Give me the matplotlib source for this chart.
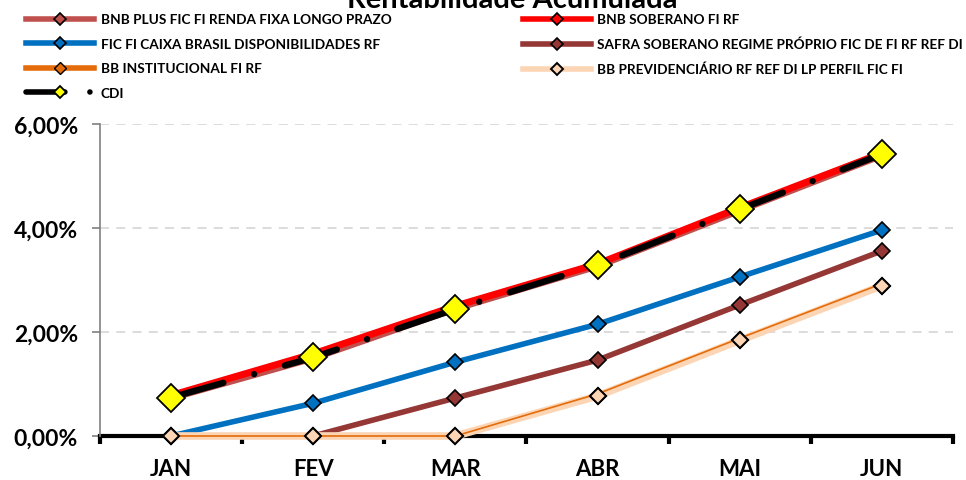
import matplotlib
matplotlib.use("Agg")
import matplotlib.pyplot as plt
from matplotlib.ticker import FuncFormatter, FixedLocator

plt.rcParams['font.family'] = ['Lato', 'DejaVu Sans']

months = ["JAN", "FEV", "MAR", "ABR", "MAI", "JUN"]
bnb_plus = [0.73, 1.50, 2.45, 3.27, 4.34, 5.40]
bnb_soberano = [0.78, 1.58, 2.50, 3.31, 4.39, 5.44]
caixa = [0.00, 0.63, 1.42, 2.15, 3.06, 3.96]
safra = [0.00, 0.00, 0.73, 1.46, 2.52, 3.56]
bb_inst = [0.00, 0.00, 0.00, 0.81, 1.88, 2.93]
bb_prev = [0.00, 0.00, 0.00, 0.77, 1.84, 2.89]
cdi = [0.74, 1.51, 2.44, 3.29, 4.36, 5.42]
y_ticks = [0, 2, 4, 6]

names = ["BNB PLUS FIC FI RENDA FIXA LONGO PRAZO", "BNB SOBERANO FI RF",
         "FIC FI CAIXA BRASIL DISPONIBILIDADES RF",
         "SAFRA SOBERANO REGIME PRÓPRIO FIC DE FI RF REF DI",
         "BB INSTITUCIONAL FI RF", "BB PREVIDENCIÁRIO RF REF DI LP PERFIL FIC FI", "CDI"]

W = "bold"
fig = plt.figure(figsize=(9.66, 4.81), dpi=100)
ax = fig.add_axes([0.1035, 0.0915, 0.883, 0.6485])
x = list(range(len(months)))

cdi_ls = (0, (8.5, 5.0, 0.01, 5.0))
h = {}
h[0], = ax.plot(x, bnb_plus, color="#C0504D", lw=5, marker="D", ms=8, mfc="#C0504D", mec="black", mew=1.2, zorder=3, clip_on=False)
h[1], = ax.plot(x, bnb_soberano, color="#FF0000", lw=5, marker="D", ms=8, mfc="#FF0000", mec="black", mew=1.2, zorder=4, clip_on=False)
h[2], = ax.plot(x, caixa, color="#0070C0", lw=4, marker="D", ms=8.5, mfc="#0070C0", mec="black", mew=1.2, zorder=4, clip_on=False)
h[3], = ax.plot(x, safra, color="#953735", lw=4, marker="D", ms=8.5, mfc="#953735", mec="black", mew=1.2, zorder=4, clip_on=False)
h[5], = ax.plot(x, bb_prev, color="#FCD5B5", lw=5.5, marker="D", ms=8.5, mfc="#FCD5B5", mec="black", mew=1.4, zorder=4.5, clip_on=False)
h[4], = ax.plot(x, bb_inst, color="#E46C0A", lw=1.2, marker="D", ms=0.1, mfc="#E46C0A", mec="black", mew=1, zorder=4.6, clip_on=False)
ax.plot(x, bb_prev, ls="none", marker="D", ms=8.5, mfc="#FCD5B5", mec="black", mew=1.4, zorder=4.7, clip_on=False)
h[6], = ax.plot(x, cdi, color="black", lw=4.6, ls=cdi_ls, dash_capstyle='round', marker="D", ms=14, mfc="#FFFF00", mec="black", mew=1.3, zorder=6, clip_on=False)

ax.set_xlim(-0.5, 5.5)
ax.set_ylim(0, 6)
ax.set_xticks(x)
ax.set_xticklabels(months, fontsize=16, fontweight=W)
ax.xaxis.set_minor_locator(FixedLocator([i - 0.5 for i in range(7)]))
ax.tick_params(axis='x', which='major', length=0, pad=16)
ax.tick_params(axis='x', which='minor', length=6, width=3, color="black", direction='out')
ax.set_yticks(y_ticks)
ax.yaxis.set_major_formatter(FuncFormatter(lambda v, p: f"{v:.2f}%".replace(".", ",")))
ax.tick_params(axis='y', length=6, width=1.2, color="#808080", pad=10)
for lab in ax.get_yticklabels():
    lab.set_fontsize(16.5)
    lab.set_fontweight(W)
ax.grid(axis='y', color="#D9D9D9", ls=(0, (5, 4)), lw=1.3)
ax.set_axisbelow(True)
for s in ["top", "right"]:
    ax.spines[s].set_visible(False)
ax.spines["left"].set_color("#808080")
ax.spines["left"].set_linewidth(1.2)
ax.spines["bottom"].set_color("black")
ax.spines["bottom"].set_linewidth(3)
ax.spines["bottom"].set_zorder(2)

fig.text(0.53, 1.0, "Rentabilidade Acumulada", ha="center", va="center", fontsize=21, fontweight=W)

leg_kw = dict(frameon=False, prop={"weight": W, "size": 9.8}, handlelength=5.0,
              labelspacing=0.92, handletextpad=0.5, borderaxespad=0, borderpad=0)
l1 = fig.legend([h[0], h[2], h[4], h[6]], [names[0], names[2], names[4], names[6]],
                loc="upper left", bbox_to_anchor=(0.027, 0.970), **leg_kw)
l2 = fig.legend([h[1], h[3], h[5]], [names[1], names[3], names[5]],
                loc="upper left", bbox_to_anchor=(0.541, 0.970), **leg_kw)
for leg in (l1, l2):
    for ln in leg.get_lines():
        ln.set_markersize(6.5)
        ln.set_linewidth(4)
        if ln.get_color() == "#E46C0A":
            ln.set_markeredgecolor("black")
        if ln.get_color() == "black":
            ln.set_linestyle((0, (7, 4.5, 0.01, 4.5)))
            ln.set_markersize(6.5)

fig.savefig("out.png", dpi=100)
